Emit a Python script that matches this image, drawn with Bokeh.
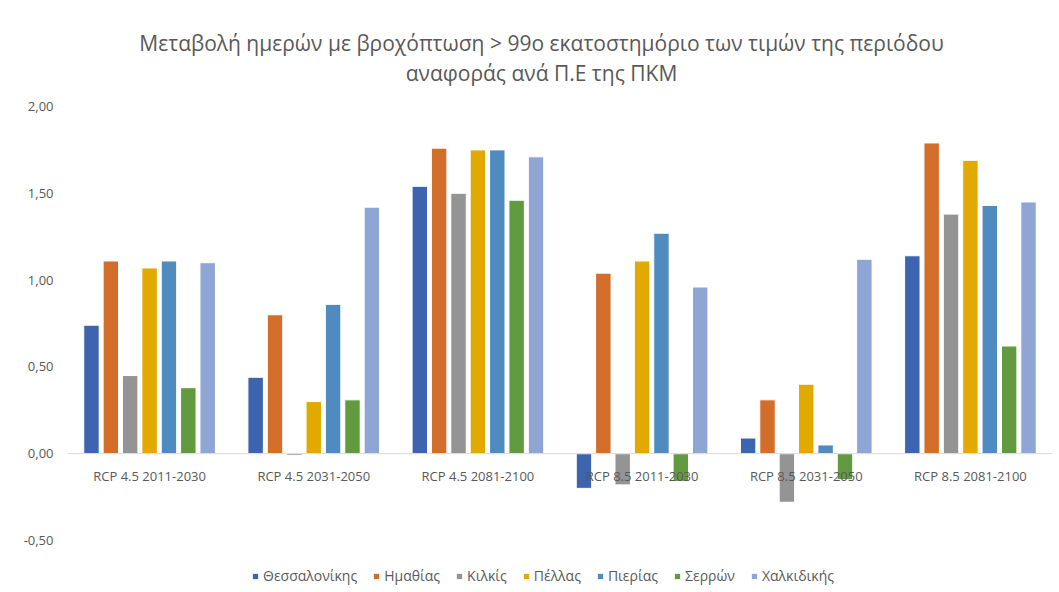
from bokeh.plotting import figure
from bokeh.models import (ColumnDataSource, FixedTicker, CustomJSTickFormatter, Span,
                          Legend, LegendItem, Label, Range1d)
from bokeh.core.properties import value
from bokeh.embed import file_html
from bokeh.resources import INLINE

categories = ["RCP 4.5 2011-2030", "RCP 4.5 2031-2050", "RCP 4.5 2081-2100",
              "RCP 8.5 2011-2030", "RCP 8.5 2031-2050", "RCP 8.5 2081-2100"]
series_names = ["Θεσσαλονίκης", "Ημαθίας", "Κιλκίς", "Πέλλας", "Πιερίας", "Σερρών", "Χαλκιδικής"]
thessaloniki = [0.74, 0.44, 1.54, -0.20, 0.09, 1.14]
imathia = [1.11, 0.80, 1.76, 1.04, 0.31, 1.79]
kilkis = [0.45, -0.01, 1.50, -0.18, -0.28, 1.38]
pella = [1.07, 0.30, 1.75, 1.11, 0.40, 1.69]
pieria = [1.11, 0.86, 1.75, 1.27, 0.05, 1.43]
serres = [0.38, 0.31, 1.46, -0.16, -0.15, 0.62]
chalkidiki = [1.10, 1.42, 1.71, 0.96, 1.12, 1.45]
series_values = [thessaloniki, imathia, kilkis, pella, pieria, serres, chalkidiki]
colors = ["#3D64AE", "#D26D2A", "#949494", "#E2AA00", "#508BBF", "#629A3F", "#8FA5D4"]
y_ticks = [-0.5, 0.0, 0.5, 1.0, 1.5, 2.0]
title_lines = ["Μεταβολή ημερών με βροχόπτωση > 99ο εκατοστημόριο των τιμών της περιόδου",
               "αναφοράς ανά Π.Ε της ΠΚΜ"]

FONT = "Open Sans"
GRAY = "#595959"

# vertical scale: 486 px for 2.8 units; extend the frame up to the top of the canvas
px_per_unit = 486 / 2.8
y_top = 2.0 + 106 / px_per_unit

p = figure(width=1059, height=592, output_backend="svg", toolbar_location=None,
           x_range=Range1d(0, len(categories)), y_range=Range1d(-0.80, y_top),
           min_border_left=67, min_border_right=7, min_border_top=0, min_border_bottom=0)
p.outline_line_color = None
p.grid.visible = False
p.xaxis.visible = False

p.yaxis.ticker = FixedTicker(ticks=y_ticks)
p.yaxis.formatter = CustomJSTickFormatter(code="return tick.toFixed(2).replace('.', ',');")
p.yaxis.axis_line_color = None
p.yaxis.major_tick_line_color = None
p.yaxis.minor_tick_line_color = None
p.yaxis.major_label_text_font = FONT
p.yaxis.major_label_text_font_size = "13px"
p.yaxis.major_label_text_color = GRAY
p.yaxis.major_label_standoff = 8

p.add_layout(Span(location=0, dimension="width", line_color="#D9D9D9", line_width=1))

n = len(series_names)
step = 0.118
width = 0.094
items = []
for j, (name, vals, col) in enumerate(zip(series_names, series_values, colors)):
    xs = [i + 0.5 + (j - (n - 1) / 2) * step for i in range(len(categories))]
    src = ColumnDataSource(dict(x=xs, top=vals))
    r = p.vbar(x="x", top="top", bottom=0, width=width, source=src,
               fill_color=col, line_color="white", line_width=1)
    items.append(LegendItem(label=name, renderers=[r]))

lab_src = ColumnDataSource(dict(x=[i + 0.5 for i in range(len(categories))],
                                y=[0] * len(categories), t=categories))
p.text(x="x", y="y", text="t", source=lab_src, text_align="center", text_baseline="middle",
       y_offset=22, text_font=value(FONT), text_font_size="13px", text_color=GRAY)

legend = Legend(items=items, orientation="horizontal", location=(184, 7),
                label_text_font=FONT, label_text_font_size="14px", label_text_color=GRAY,
                glyph_width=8, glyph_height=8, label_standoff=4, spacing=15,
                border_line_color=None, background_fill_alpha=0, margin=0, padding=2)
p.add_layout(legend)

for txt, dy in zip(title_lines, [64, 34]):
    p.add_layout(Label(x=len(categories) / 2, y=max(y_ticks), x_offset=-18.5, y_offset=dy,
                       text=txt, text_align="center", text_baseline="middle",
                       text_font=FONT, text_font_size="21px", text_color=GRAY))

open("out.html", "w").write(file_html(p, INLINE))
